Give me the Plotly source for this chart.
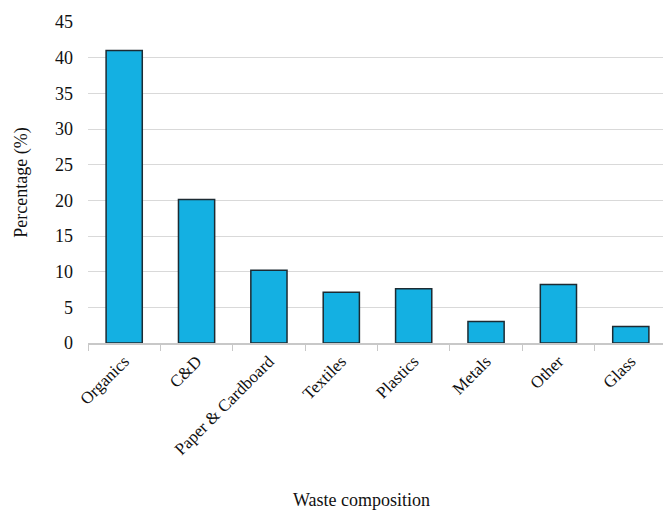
import plotly.graph_objects as go

categories = ["Organics", "C&D", "Paper & Cardboard", "Textiles", "Plastics", "Metals", "Other", "Glass"]
values = [41.0, 20.1, 10.2, 7.1, 7.6, 3.0, 8.2, 2.3]
y_ticks = [0, 5, 10, 15, 20, 25, 30, 35, 40, 45]

font = "Liberation Serif"

fig = go.Figure(go.Bar(
    x=categories,
    y=values,
    width=0.5,
    marker=dict(color="#14b0e2", line=dict(color="#1c2b33", width=1.5)),
))

fig.update_layout(
    width=663, height=511,
    margin=dict(l=88, r=0, t=22, b=168),
    paper_bgcolor="white", plot_bgcolor="white",
    font=dict(family=font, size=18, color="#111111"),
    showlegend=False,
    xaxis=dict(
        range=[-0.5, 7.445],
        tickangle=-45,
        ticks="outside", tickson="boundaries", ticklen=6, tickcolor="#c8c8c8",
        showline=True, linecolor="#c8c8c8", linewidth=1.5,
        showgrid=False,
        tickfont=dict(family=font, size=17, color="#111111"),
        automargin=False,
    ),
    yaxis=dict(
        range=[0, 45],
        tickvals=y_ticks,
        showgrid=True, gridcolor="#d9d9d9", gridwidth=1.2,
        zeroline=False, showline=False,
        ticks="", ticklabelstandoff=14,
        tickfont=dict(family=font, size=18, color="#111111"),
        title=dict(text="Percentage (%)", standoff=22, font=dict(family=font, size=18)),
        automargin=False,
    ),
    annotations=[dict(
        text="Waste composition", xref="paper", yref="paper",
        x=0.475, y=-0.489, xanchor="center", yanchor="middle",
        showarrow=False, font=dict(family=font, size=18, color="#111111"),
    )],
)

fig.write_html("out.html")
